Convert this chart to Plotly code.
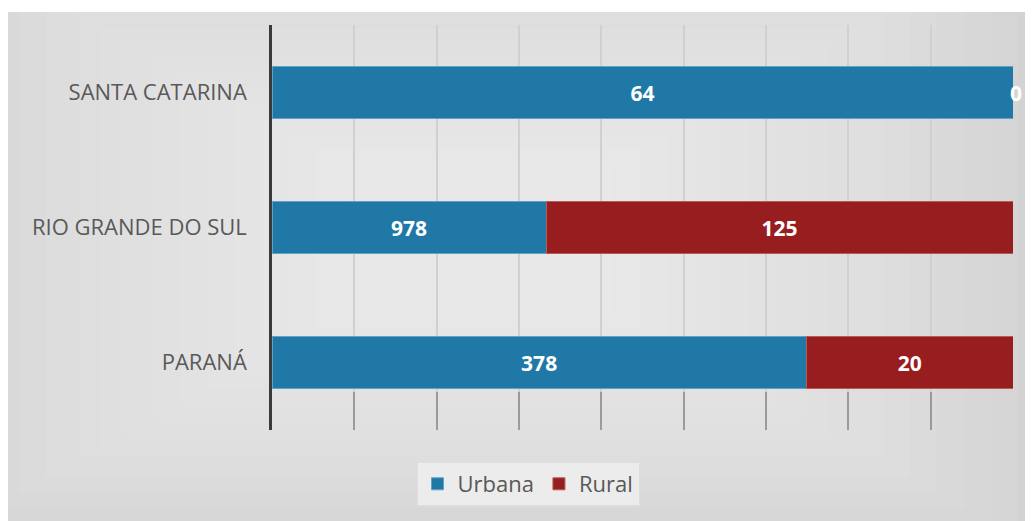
import plotly.graph_objects as go
import numpy as np

# categories bottom -> top
estados = ["PARANÁ", "RIO GRANDE DO SUL", "SANTA CATARINA"]

# bar shares (% of the row) as drawn, and the labels printed on them
urbana_pct = [72.1, 37.0, 100.0]
rural_pct = [27.9, 63.0, 0.0]
urbana_lbl = ["378", "978", "64"]
rural_lbl = ["20", "125", "0"]

# page has an 8px body margin, so figure coords = screenshot - 8
W, H = 1033, 521
L, T = 264, 17
PR, PB = 1005, 422          # right / bottom edge of the plot area
R, B = W - PR, H - PB
pw, ph = PR - L, PB - T

def px_x(p):
    return (p - L) / pw

def px_y(p):
    return (PB - p) / ph

azul = "#1f78a6"
vermelho = "#981d1f"
lbl_font = dict(color="white", size=21, family="Open Sans", weight="bold")

fig = go.Figure()
fig.add_trace(go.Bar(
    y=estados, x=urbana_pct, name="Urbana", orientation="h",
    marker=dict(color=azul, line=dict(color="#5fa3c6", width=1)),
    text=urbana_lbl, textposition="inside", insidetextanchor="middle",
    textfont=lbl_font, cliponaxis=False,
))
fig.add_trace(go.Bar(
    y=estados, x=rural_pct, name="Rural", orientation="h",
    marker=dict(color=vermelho, line=dict(color="#b65a5a", width=1)),
    text=[t if v > 0 else "" for t, v in zip(rural_lbl, rural_pct)],
    textposition="inside", insidetextanchor="middle",
    textfont=lbl_font, cliponaxis=False,
))

# zero-width rural segment: label sits on the bar end
for est, u, r, t in zip(estados, urbana_pct, rural_pct, rural_lbl):
    if r == 0:
        fig.add_annotation(x=u + r, y=est, text=t, showarrow=False,
                           xanchor="center", xshift=3, font=lbl_font)

# gray chart background, lighter towards the middle (many soft layers)
fig.add_shape(type="rect", xref="paper", yref="paper", layer="below",
              x0=px_x(0), x1=px_x(W + 5), y0=px_y(H + 5), y1=px_y(4),
              fillcolor="#d3d3d3", line=dict(width=0))
cx, cy = 470, 230
n = 16
for k in range(n):
    hw = 540 - k * 27
    hh = 300 - k * 15
    fig.add_shape(type="rect", xref="paper", yref="paper", layer="below",
                  x0=px_x(cx - hw), x1=px_x(cx + hw),
                  y0=px_y(cy + hh), y1=px_y(max(cy - hh, 4)),
                  fillcolor="white", opacity=0.055, line=dict(width=0))

fig.update_layout(
    width=W, height=H,
    margin=dict(l=L, r=R, t=T, b=B, autoexpand=False),
    paper_bgcolor="white",
    plot_bgcolor="rgba(0,0,0,0)",
    barmode="stack",
    bargap=0.615,
    font=dict(family="Open Sans", color="#595959"),
    xaxis=dict(
        range=[0, 100], tickvals=list(np.linspace(0, 100, 10)),
        showgrid=True, gridcolor="#d0d0d0", gridwidth=1.5,
        showticklabels=False, zeroline=False, showline=False,
        ticks="inside", ticklen=38, tickcolor="#9a9a9a", tickwidth=2,
        automargin=False,
    ),
    yaxis=dict(
        showline=True, linecolor="#3a3a3a", linewidth=2.5,
        ticks="", tickfont=dict(size=22, color="#595959", family="Open Sans"),
        ticklabelstandoff=18, showgrid=False, automargin=False,
    ),
    legend=dict(
        orientation="h", x=px_x(520), y=px_y(476),
        xanchor="center", yanchor="middle",
        bgcolor="#ececec", bordercolor="#dedede", borderwidth=1,
        font=dict(size=22, color="#595959", family="Open Sans"),
        traceorder="normal",
    ),
    showlegend=True,
)

fig.write_html("out.html")
